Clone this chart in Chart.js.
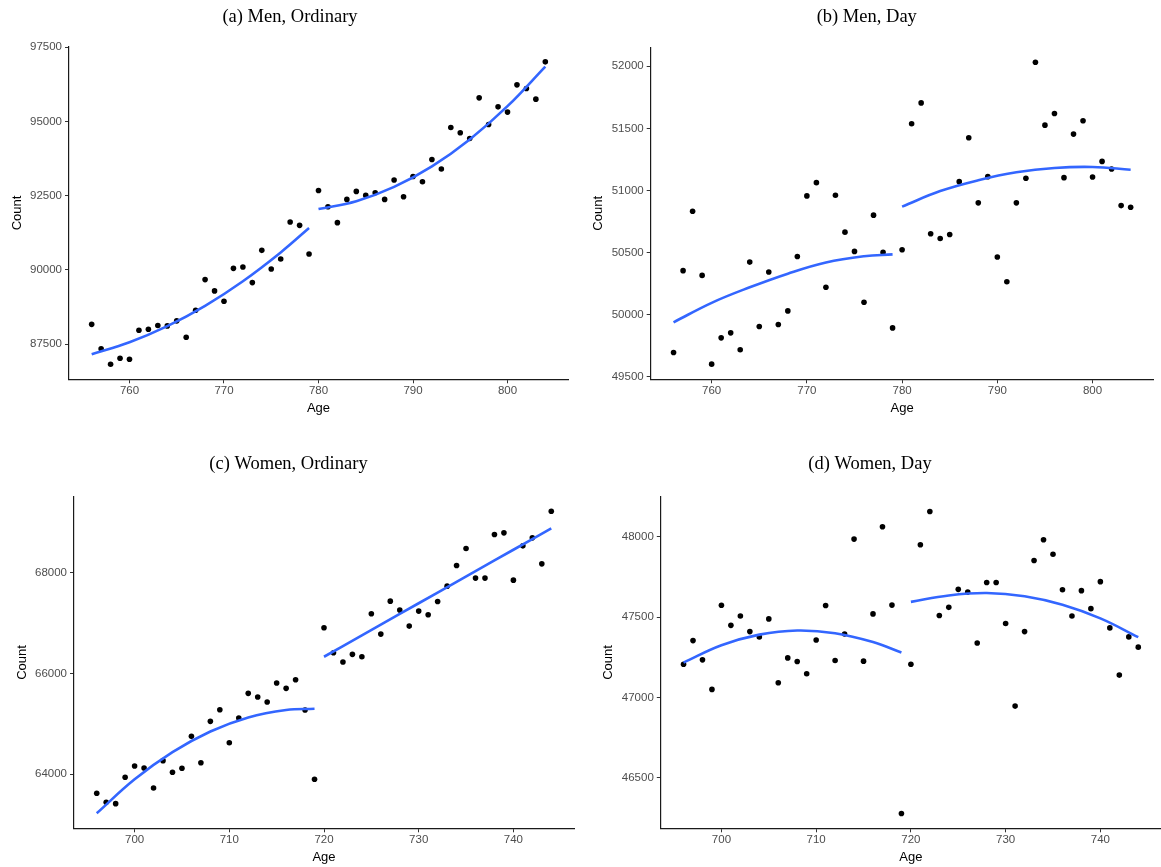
<!DOCTYPE html>
<html>
<head>
<meta charset="utf-8">
<title>Count by age</title>
<script src="https://cdn.jsdelivr.net/npm/chart.js@4.4.1/dist/chart.umd.min.js"></script>
<style>
  html, body { margin: 0; padding: 0; background: #fff; width: 1161px; height: 867px; overflow: hidden; }
  canvas { position: absolute; }
</style>
</head>
<body>
<canvas id="menOrdinaryChart" width="572" height="420" style="left:0px;top:0px"></canvas>
<canvas id="menDayChart" width="580" height="420" style="left:580px;top:0px"></canvas>
<canvas id="womenOrdinaryChart" width="578" height="427" style="left:0px;top:440px"></canvas>
<canvas id="womenDayChart" width="590" height="427" style="left:575px;top:440px"></canvas>
<script>
"use strict";

// ages (x axis)
const agesMen = [756, 757, 758, 759, 760, 761, 762, 763, 764, 765, 766, 767, 768, 769, 770, 771, 772,
    773, 774, 775, 776, 777, 778, 779, 780, 781, 782, 783, 784, 785, 786, 787, 788, 789, 790, 791, 792,
    793, 794, 795, 796, 797, 798, 799, 800, 801, 802, 803, 804];
const agesWomen = [696, 697, 698, 699, 700, 701, 702, 703, 704, 705, 706, 707, 708, 709, 710, 711, 712,
    713, 714, 715, 716, 717, 718, 719, 720, 721, 722, 723, 724, 725, 726, 727, 728, 729, 730, 731, 732,
    733, 734, 735, 736, 737, 738, 739, 740, 741, 742, 743, 744];

// counts per age
const menOrdinary = [88170, 87345, 86828, 87030, 86996, 87970, 88004, 88129, 88118, 88287, 87735, 88643,
    89675, 89295, 88946, 90055, 90100, 89574, 90660, 90035, 90371, 91615, 91501, 90539,
    92677, 92129, 91592, 92375, 92644, 92510, 92600, 92375, 93027, 92466, 93148, 92970, 93720,
    93396, 94796, 94617, 94426, 95794, 94896, 95491, 95313, 96231, 96107, 95750, 97005];
const menDay = [49695, 50354, 50833, 50316, 49601, 49813, 49853, 49717, 50423, 49904, 50343, 49920,
    50030, 50468, 50956, 51063, 50220, 50961, 50664, 50509, 50099, 50801, 50501, 49893,
    50522, 51537, 51705, 50651, 50613, 50645, 51071, 51424, 50900, 51111, 50464, 50265, 50900,
    51098, 52032, 51526, 51620, 51103, 51454, 51561, 51108, 51234, 51173, 50878, 50865];
const womenOrdinary = [63624, 63445, 63418, 63940, 64164, 64125, 63729, 64270, 64040, 64119, 64752, 64230,
    65049, 65280, 64626, 65115, 65604, 65531, 65432, 65808, 65703, 65873, 65273, 63901,
    66903, 66408, 66224, 66376, 66329, 67180, 66778, 67431, 67253, 66936, 67233, 67160, 67425,
    67728, 68138, 68475, 67887, 67887, 68752, 68784, 67847, 68526, 68685, 68170, 69213];
const womenDay = [47207, 47354, 47234, 47050, 47574, 47449, 47507, 47410, 47377, 47489, 47091, 47246,
    47224, 47147, 47358, 47572, 47230, 47395, 47986, 47226, 47520, 48063, 47575, 46277,
    47207, 47951, 48158, 47510, 47561, 47673, 47656, 47339, 47716, 47716, 47460, 46946, 47410,
    47853, 47982, 47892, 47671, 47507, 47665, 47553, 47721, 47433, 47139, 47377, 47313];

// smooth fits on each side of the cut-off
const fitAgesMenLeft = [756, 760, 764, 768, 772, 776, 779];
const fitAgesMenRight = [780, 784, 788, 792, 796, 800, 804];
const fitAgesWomenLeft = [696, 700, 704, 708, 712, 716, 719];
const fitAgesWomenRight = [720, 724, 728, 732, 736, 740, 744];

const menOrdinaryFitLeft = [87165, 87566, 88109, 88794, 89622, 90591, 91412];
const menOrdinaryFitRight = [92051, 92317, 92796, 93487, 94394, 95513, 96847];
const menDayFitLeft = [49938, 50095, 50220, 50330, 50420, 50470, 50485];
const menDayFitRight = [50870, 50995, 51082, 51146, 51181, 51189, 51167];
const womenOrdinaryFitLeft = [63228, 63901, 64440, 64849, 65127, 65274, 65299];
const womenOrdinaryFitRight = [66329, 66753, 67177, 67601, 68025, 68449, 68871];
const womenDayFitLeft = [47217, 47325, 47391, 47417, 47400, 47345, 47280];
const womenDayFitRight = [47595, 47635, 47650, 47630, 47577, 47492, 47375];

// tick labels
const ageTicksMen = [760, 770, 780, 790, 800];
const ageTicksWomen = [700, 710, 720, 730, 740];
const countTicksMenOrdinary = [87500, 90000, 92500, 95000, 97500];
const countTicksMenDay = [49500, 50000, 50500, 51000, 51500, 52000];
const countTicksWomenOrdinary = [64000, 66000, 68000];
const countTicksWomenDay = [46500, 47000, 47500, 48000];

Chart.defaults.font.family = "'Liberation Sans', Arial, sans-serif";

function toPoints(xs, ys) {
    return xs.map((x, i) => ({ x: x, y: ys[i] }));
}

function fitLine(xs, ys) {
    return {
        data: toPoints(xs, ys),
        showLine: true,
        borderColor: "#3366FF",
        borderWidth: 2.6,
        pointRadius: 0,
        tension: 0.4,
        fill: false,
    };
}

function axisStyle() {
    return {
        grid: {
            display: true,
            drawOnChartArea: false,
            drawTicks: true,
            tickLength: 4,
            color: "#333333",
            lineWidth: 1,
        },
        border: { display: true, color: "#1a1a1a", width: 1.2 },
    };
}

function drawPanel(id, p) {
    const ctx = document.getElementById(id).getContext("2d");
    const tickFont = { size: 11.5 };
    return new Chart(ctx, {
        type: "scatter",
        data: {
            datasets: [
                fitLine(p.fitAges[0], p.fit[0]),
                fitLine(p.fitAges[1], p.fit[1]),
                {
                    data: toPoints(p.ages, p.counts),
                    pointRadius: 2.8,
                    pointBackgroundColor: "#000000",
                    pointBorderWidth: 0,
                },
            ],
        },
        options: {
            responsive: false,
            animation: false,
            events: [],
            layout: { padding: { left: p.padLeft, right: p.padRight, top: 0, bottom: 0 } },
            plugins: {
                legend: { display: false },
                tooltip: { enabled: false },
                title: {
                    display: true,
                    text: p.title,
                    color: "#000000",
                    font: { family: "'Liberation Serif', 'Times New Roman', serif", size: 18.5, weight: "normal" },
                    padding: { top: p.titleTop, bottom: p.titleBottom },
                },
            },
            scales: {
                x: Object.assign(axisStyle(), {
                    type: "linear",
                    min: p.xMin,
                    max: p.xMax,
                    afterBuildTicks: (s) => { s.ticks = p.xTicks.map((v) => ({ value: v })); },
                    afterFit: (s) => { s.height = p.xHeight; },
                    ticks: {
                        color: "#4d4d4d",
                        font: tickFont,
                        padding: 1,
                        maxRotation: 0,
                        autoSkip: false,
                        callback: (v) => String(v),
                    },
                    title: {
                        display: true,
                        text: "Age",
                        color: "#000000",
                        font: { size: 13 },
                        padding: { top: 0, bottom: p.xTitlePad },
                    },
                }),
                y: Object.assign(axisStyle(), {
                    type: "linear",
                    min: p.yMin,
                    max: p.yMax,
                    afterBuildTicks: (s) => { s.ticks = p.yTicks.map((v) => ({ value: v })); },
                    afterFit: (s) => { s.width = p.yWidth; },
                    ticks: {
                        color: "#4d4d4d",
                        font: tickFont,
                        padding: 3,
                        autoSkip: false,
                        callback: (v) => String(v),
                    },
                    title: {
                        display: true,
                        text: "Count",
                        color: "#000000",
                        font: { size: 13 },
                        padding: { top: p.yTitlePad, bottom: 0 },
                    },
                }),
            },
        },
    });
}

drawPanel("menOrdinaryChart", {
    title: "(a) Men, Ordinary",
    ages: agesMen, counts: menOrdinary,
    fitAges: [fitAgesMenLeft, fitAgesMenRight], fit: [menOrdinaryFitLeft, menOrdinaryFitRight],
    xTicks: ageTicksMen, yTicks: countTicksMenOrdinary,
    xMin: 753.6, xMax: 806.4, yMin: 86320, yMax: 97515,
    padLeft: 8, padRight: 0, yWidth: 61, xHeight: 40.7,
    titleTop: 5.9, titleBottom: 18.6, yTitlePad: 1.2, xTitlePad: 4.2,
});

drawPanel("menDayChart", {
    title: "(b) Men, Day",
    ages: agesMen, counts: menDay,
    fitAges: [fitAgesMenLeft, fitAgesMenRight], fit: [menDayFitLeft, menDayFitRight],
    xTicks: ageTicksMen, yTicks: countTicksMenDay,
    xMin: 753.6, xMax: 806.4, yMin: 49479, yMax: 52153,
    padLeft: 0, padRight: 6.5, yWidth: 70.7, xHeight: 40.7,
    titleTop: 5.9, titleBottom: 19.2, yTitlePad: 10.2, xTitlePad: 4.2,
});

drawPanel("womenOrdinaryChart", {
    title: "(c) Women, Ordinary",
    ages: agesWomen, counts: womenOrdinary,
    fitAges: [fitAgesWomenLeft, fitAgesWomenRight], fit: [womenOrdinaryFitLeft, womenOrdinaryFitRight],
    xTicks: ageTicksWomen, yTicks: countTicksWomenOrdinary,
    xMin: 693.6, xMax: 746.4, yMin: 62930, yMax: 69500,
    padLeft: 0, padRight: 1, yWidth: 74, xHeight: 38.7,
    titleTop: 12.9, titleBottom: 21.6, yTitlePad: 14.2, xTitlePad: 2.2,
});

drawPanel("womenDayChart", {
    title: "(d) Women, Day",
    ages: agesWomen, counts: womenDay,
    fitAges: [fitAgesWomenLeft, fitAgesWomenRight], fit: [womenDayFitLeft, womenDayFitRight],
    xTicks: ageTicksWomen, yTicks: countTicksWomenDay,
    xMin: 693.6, xMax: 746.4, yMin: 46185, yMax: 48250,
    padLeft: 0, padRight: 0, yWidth: 85.8, xHeight: 38.7,
    titleTop: 12.9, titleBottom: 21.6, yTitlePad: 25.2, xTitlePad: 2.2,
});
</script>
</body>
</html>
